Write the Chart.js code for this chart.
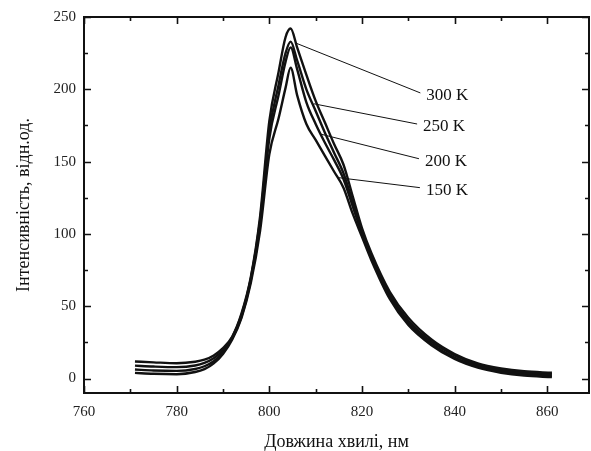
<!DOCTYPE html>
<html>
<head>
<meta charset="utf-8">
<script src="https://cdn.jsdelivr.net/npm/chart.js@4/dist/chart.umd.min.js"></script>
<style>
  html, body { margin: 0; padding: 0; background: #fff; }
  canvas { display: block; }
</style>
</head>
<body>
<canvas id="spectrum" width="591" height="451"></canvas>
<script>
// Довжина хвилі, нм
var wavelength = [771, 775, 780, 784, 786, 788, 790, 792, 794, 796, 798, 800, 802, 803.5, 804.6, 806, 808, 810, 812, 814, 816, 818, 820, 822, 826, 830, 835, 840, 845, 850, 855, 861];

// Інтенсивність для кожної температури
var int300 = [11.8, 11.2, 10.6, 11.6, 13, 16, 21, 29, 45, 70, 112, 178, 212, 236, 242, 229, 210, 192, 177, 162, 148, 126, 104, 87, 60, 42, 27, 17, 10.5, 7, 5, 4];
var int250 = [8.9, 8.3, 7.9, 9.0, 10.8, 14, 19.5, 28.5, 44, 69, 109, 171, 203, 225, 233, 220, 200, 185, 170, 156, 142, 122, 102, 85, 58, 40, 25.5, 16, 9.5, 6, 4, 3];
var int200 = [6.2, 5.6, 5.3, 6.6, 8.5, 12, 18, 28, 43, 68, 106, 166, 196, 219, 229, 214, 191, 176, 163, 151, 138, 119, 100, 83.5, 56.5, 38.5, 24, 14.5, 8.5, 5, 3, 2];
var int150 = [3.9, 3.3, 3.0, 4.5, 6.5, 10.5, 17, 27, 42, 66, 102, 155, 180, 201, 215, 196, 176, 165, 154, 143, 132, 114, 98, 82, 55, 37, 23, 13.5, 7.5, 4, 2, 1];

// підписи температур і виноски до кривих
var tempLabels = ['300 K', '250 K', '200 K', '150 K'];
var leaderFrom = [[805.7, 232], [809.6, 190], [811.1, 169], [814.7, 139]];
var leaderTo = [[832.6, 197.5], [831.9, 176], [832.3, 152], [832.5, 132]];

// поділки осей
var xTicks = [760, 780, 800, 820, 840, 860];
var xMinor = [770, 790, 810, 830, 850];
var yTicks = [0, 50, 100, 150, 200, 250];
var yMinor = [25, 75, 125, 175, 225];

var serif = '"Liberation Serif", "DejaVu Serif", serif';

function toPoints(ys) {
    return wavelength.map(function (x, i) { return { x: x, y: ys[i] }; });
}

var curves = [int300, int250, int200, int150].map(function (ys) {
    return {
        data: toPoints(ys),
        borderColor: '#111',
        borderWidth: 2.4,
        pointRadius: 0,
        fill: false,
        cubicInterpolationMode: 'monotone'
    };
});

var leaders = leaderFrom.map(function (p, i) {
    return {
        data: [{ x: p[0], y: p[1] }, { x: leaderTo[i][0], y: leaderTo[i][1] }],
        borderColor: '#111',
        borderWidth: 1,
        pointRadius: 0,
        fill: false,
        tension: 0
    };
});

// рамка, внутрішні поділки та підписи температур
var framePlugin = {
    id: 'frame',
    afterDraw: function (chart) {
        var ctx = chart.ctx;
        var a = chart.chartArea;
        var xs = chart.scales.x;
        var ys = chart.scales.y;
        ctx.save();
        ctx.strokeStyle = '#111';
        ctx.lineWidth = 2;
        ctx.strokeRect(a.left, a.top, a.right - a.left, a.bottom - a.top);

        function xTick(v, len) {
            var px = Math.round(xs.getPixelForValue(v)) + 0.5;
            ctx.beginPath();
            ctx.moveTo(px, a.bottom); ctx.lineTo(px, a.bottom - len);
            ctx.moveTo(px, a.top); ctx.lineTo(px, a.top + len);
            ctx.stroke();
        }
        function yTick(v, len) {
            var py = Math.round(ys.getPixelForValue(v)) + 0.5;
            ctx.beginPath();
            ctx.moveTo(a.left, py); ctx.lineTo(a.left + len, py);
            ctx.moveTo(a.right, py); ctx.lineTo(a.right - len, py);
            ctx.stroke();
        }
        ctx.lineWidth = 1.6;
        xTicks.forEach(function (v) { xTick(v, 7); });
        xMinor.forEach(function (v) { xTick(v, 4); });
        yTicks.forEach(function (v) { yTick(v, 7); });
        yMinor.forEach(function (v) { yTick(v, 4); });

        ctx.fillStyle = '#111';
        ctx.font = '17px ' + serif;
        ctx.textAlign = 'left';
        ctx.textBaseline = 'middle';
        tempLabels.forEach(function (t, i) {
            var px = xs.getPixelForValue(leaderTo[i][0]) + 6;
            var py = ys.getPixelForValue(leaderTo[i][1]) + 3;
            ctx.fillText(t, px, py);
        });
        ctx.restore();
    }
};

new Chart(document.getElementById('spectrum').getContext('2d'), {
    type: 'line',
    data: { datasets: curves.concat(leaders) },
    options: {
        responsive: false,
        animation: false,
        layout: { padding: { top: 14, right: 2, left: 0, bottom: 0 } },
        plugins: { legend: { display: false }, tooltip: { enabled: false } },
        scales: {
            x: {
                type: 'linear',
                min: 760,
                max: 869,
                grid: { display: false, drawTicks: false },
                border: { display: false },
                afterBuildTicks: function (scale) {
                    scale.ticks = xTicks.map(function (v) { return { value: v }; });
                },
                afterFit: function (scale) { scale.height = 58; },
                ticks: {
                    color: '#222',
                    padding: 10,
                    maxRotation: 0,
                    font: { family: serif, size: 15 }
                },
                title: {
                    display: true,
                    text: 'Довжина хвилі, нм',
                    color: '#111',
                    padding: { top: 4, bottom: -2 },
                    font: { family: serif, size: 18 }
                }
            },
            y: {
                min: -10,
                max: 250,
                grid: { display: false, drawTicks: false },
                border: { display: false },
                afterBuildTicks: function (scale) {
                    scale.ticks = yTicks.map(function (v) { return { value: v }; });
                },
                afterFit: function (scale) { scale.width = 84; },
                ticks: {
                    color: '#222',
                    padding: 8,
                    font: { family: serif, size: 15 }
                },
                title: {
                    display: true,
                    text: 'Інтенсивність, відн.од.',
                    color: '#111',
                    padding: { top: 13, bottom: 4 },
                    font: { family: serif, size: 18 }
                }
            }
        }
    },
    plugins: [framePlugin]
});
</script>
</body>
</html>
